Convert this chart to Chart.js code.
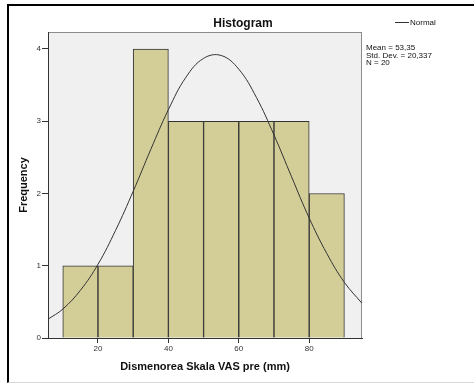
<!DOCTYPE html>
<html>
<head>
<meta charset="utf-8">
<script src="https://cdn.jsdelivr.net/npm/chart.js@4.4.1/dist/chart.umd.min.js"></script>
<style>
  body { margin: 0; background: #fff; }
  #frame { position: absolute; left: 7px; top: 4px; width: 470px; height: 376px;
           border-left: 2px solid #000; border-top: 2px solid #000; border-bottom: 1px solid #d8d8d8; }
  #grafica { position: absolute; left: 0; top: 0; }
</style>
</head>
<body>
<div id="frame"></div>
<canvas id="grafica" width="474" height="383"></canvas>
<script>
// histogram bins (centre of each 10 mm bin) and counts
const binCenters = [15, 25, 35, 45, 55, 65, 75, 85];
const counts = [1, 1, 4, 3, 3, 3, 3, 2];

// normal curve
const curveX = [5.8, 10, 15, 20, 25, 30, 35, 40, 45, 50, 55, 60, 65, 70, 75, 80, 85, 90, 95];
const curveY = [0.26, 0.40, 0.66, 1.02, 1.49, 2.03, 2.61, 3.16, 3.61, 3.87, 3.91, 3.72, 3.33, 2.81, 2.23, 1.66, 1.17, 0.77, 0.48];

const xTicks = [20, 40, 60, 80];
const yTicks = [0, 1, 2, 3, 4];
const statLines = ["Mean = 53,35", "Std. Dev. = 20,337", "N = 20"];

const fam = '"Liberation Sans", Arial, sans-serif';
Chart.defaults.font.family = fam;
Chart.defaults.color = "#333";

const extras = {
  id: "extras",
  beforeDraw(chart) {
    const { ctx, chartArea: a } = chart;
    ctx.save();
    ctx.fillStyle = "#f0f0f0";
    ctx.fillRect(a.left, a.top, a.right - a.left, a.bottom - a.top);
    ctx.strokeStyle = "#8c8c8c";
    ctx.lineWidth = 1;
    ctx.strokeRect(a.left + 0.5, a.top + 0.5, a.right - a.left - 1, a.bottom - a.top);
    ctx.restore();
  },
  afterDraw(chart) {
    const ctx = chart.ctx;
    ctx.save();
    ctx.fillStyle = "#111";
    ctx.textBaseline = "middle";
    ctx.textAlign = "center";
    ctx.font = "bold 12px " + fam;
    ctx.fillText("Histogram", 243, 24);

    ctx.textAlign = "left";
    ctx.font = "8px " + fam;
    ctx.strokeStyle = "#333";
    ctx.beginPath();
    ctx.moveTo(395, 22.5);
    ctx.lineTo(409, 22.5);
    ctx.stroke();
    ctx.fillText("Normal", 410, 22.5);

    statLines.forEach((t, i) => ctx.fillText(t, 366, 48 + i * 7.5));
    ctx.restore();
  }
};

const ctx = document.getElementById("grafica").getContext("2d");
new Chart(ctx, {
  type: "bar",
  data: {
    datasets: [
      {
        type: "line",
        data: curveX.map((x, i) => ({ x: x, y: curveY[i] })),
        borderColor: "#333",
        borderWidth: 1,
        pointRadius: 0,
        tension: 0.4,
        order: 1
      },
      {
        type: "bar",
        data: binCenters.map((x, i) => ({ x: x, y: counts[i] })),
        backgroundColor: "#d3ce98",
        borderColor: "#333",
        borderWidth: 1,
        barPercentage: 1,
        categoryPercentage: 1,
        order: 2
      }
    ]
  },
  options: {
    responsive: false,
    animation: false,
    layout: { padding: { left: 8, top: 32, right: 112, bottom: 0 } },
    plugins: { legend: { display: false }, tooltip: { enabled: false } },
    scales: {
      x: {
        type: "linear",
        min: 5.8,
        max: 95,
        offset: false,
        afterFit: s => { s.height = 45; },
        afterBuildTicks: s => { s.ticks = xTicks.map(v => ({ value: v })); },
        grid: { drawOnChartArea: false, offset: false, tickLength: 5, tickColor: "#333" },
        border: { color: "#333" },
        ticks: { font: { size: 8 }, padding: 1, maxRotation: 0 },
        title: { display: true, text: "Dismenorea Skala VAS pre (mm)", color: "#111",
                 font: { size: 11, weight: "bold" }, padding: { bottom: 9.5 } }
      },
      y: {
        min: 0,
        max: 4.235,
        afterFit: s => { s.width = 40; },
        afterBuildTicks: s => { s.ticks = yTicks.map(v => ({ value: v })); },
        grid: { drawOnChartArea: false, tickLength: 6, tickColor: "#333" },
        border: { color: "#333" },
        ticks: { font: { size: 8 }, padding: 1 },
        title: { display: true, text: "Frequency", color: "#111",
                 font: { size: 11, weight: "bold" }, padding: { top: 9.5 } }
      }
    }
  },
  plugins: [extras]
});
</script>
</body>
</html>
